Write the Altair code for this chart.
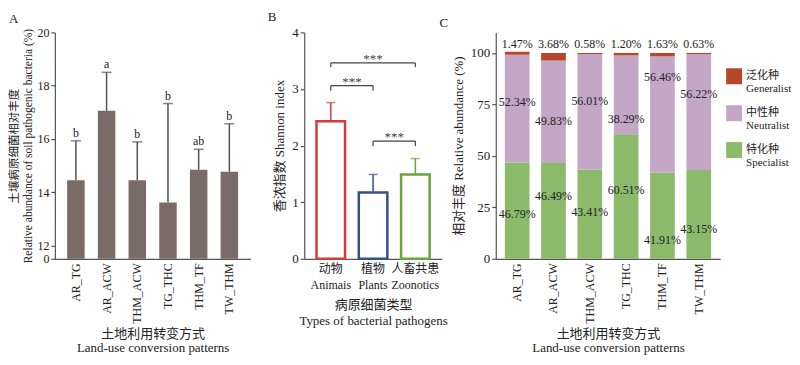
import altair as alt
import pandas as pd

FONT = "Liberation Serif, Noto Sans CJK SC, serif"

# ---------------- Panel A data ----------------
a_sites = ["AR_TG", "AR_ACW", "THM_ACW", "TG_THC", "THM_TF", "TW_THM"]
a_mean = [14.45, 17.06, 14.45, 13.61, 14.84, 14.77]
a_upper = [15.93, 18.50, 15.89, 17.33, 15.61, 16.57]
a_letters = ["b", "a", "b", "b", "ab", "b"]
a_base = 11.5  # broken-axis position of "0"

# ---------------- Panel B data ----------------
b_cats = ["动物|Animais", "植物|Plants", "人畜共患|Zoonotics"]
b_mean = [2.43, 1.17, 1.49]
b_upper = [2.76, 1.49, 1.77]
b_colors = ["#d23b3b", "#34508c", "#6aa43e"]
b_brk_from = ["动物|Animais", "动物|Animais", "植物|Plants"]
b_brk_to = ["人畜共患|Zoonotics", "植物|Plants", "人畜共患|Zoonotics"]
b_brk_y = [3.46, 3.06, 2.08]
b_brk_drop = [3.39, 2.97, 1.99]
b_brk_text = ["***", "***", "***"]

# ---------------- Panel C data ----------------
c_sites = a_sites
c_spec = [46.79, 46.49, 43.41, 60.51, 41.91, 43.15]
c_neut = [52.34, 49.83, 56.01, 38.29, 56.46, 56.22]
c_gen = [1.47, 3.68, 0.58, 1.20, 1.63, 0.63]
c_groups = ["泛化种|Generalist", "中性种|Neutralist", "特化种|Specialist"]
c_colors = ["#b5472b", "#c4a7c7", "#8cba6b"]
c_gen_label_y = [104.3] * 6
c_neut_label_y = [76.3, 66.9, 76.7, 67.7, 88.4, 79.9]
c_spec_label_y = [21.9, 30.4, 22.6, 33.6, 8.9, 14.6]

AXCOL = "#555555"
TXT = "#222222"

# ================= Panel A =================
dfA = pd.DataFrame({"site": a_sites, "mean": a_mean, "upper": a_upper, "letter": a_letters})
scA = alt.Scale(domain=a_sites, paddingInner=0.43, paddingOuter=0.4)
xA = alt.X("site:N", scale=scA,
           axis=alt.Axis(labelAngle=-90, ticks=False, labelFontSize=12,
                         title=["土地利用转变方式", "Land-use conversion patterns"],
                         titlePadding=4, labelPadding=4, titleLineHeight=14))
yA_scale = alt.Scale(domain=[a_base, 20], nice=False, zero=False)
baseA = alt.Chart(dfA)
barsA = baseA.mark_bar(color="#7b6b67").encode(
    x=xA,
    y=alt.Y("mean:Q", scale=yA_scale,
            axis=alt.Axis(values=[a_base, 12, 14, 16, 18, 20], labelOverlap=False,
                          labelExpr=f"datum.value == {a_base} ? '0' : datum.label",
                          labelFontSize=12,
                          title=["土壤病原细菌相对丰度", "Relative abundance of soil pathogenic bacteria (%)"],
                          titleFontSize=11.5, titlePadding=3, titleLineHeight=14, labelPadding=2)),
    y2=alt.datum(a_base),
)
errA = baseA.mark_rule(color="#5b504e", strokeWidth=1.5).encode(
    x=alt.X("site:N", scale=scA), y="mean:Q", y2="upper:Q")
capA = baseA.mark_tick(color="#5b504e", size=10, thickness=1.5).encode(
    x=alt.X("site:N", scale=scA), y="upper:Q")
letA = baseA.mark_text(font=FONT, fontSize=12, color=TXT, baseline="bottom", dy=-1).encode(
    x=alt.X("site:N", scale=scA), y="upper:Q", text="letter:N")
chartA = alt.layer(barsA, errA, capA, letA).properties(
    width=196, height=227,
    title=alt.TitleParams("A", anchor="start", frame="bounds", fontSize=13, offset=0))

# ================= Panel B =================
dfB = pd.DataFrame({"cat": b_cats, "mean": b_mean, "upper": b_upper})
b_pi, b_po, b_w = 0.325, 0.29, 138
b_step = b_w / (len(b_cats) - b_pi + 2 * b_po)
scB = alt.Scale(domain=b_cats, paddingInner=b_pi, paddingOuter=b_po)
xB = alt.X("cat:N", scale=scB,
           axis=alt.Axis(labelAngle=0, ticks=False, labelExpr="split(datum.label, '|')",
                         title=["病原细菌类型", "Types of bacterial pathogens"], labelFontSize=12,
                         labelPadding=5, titlePadding=8, labelLineHeight=16, titleLineHeight=16))
colB = alt.Color("cat:N", scale=alt.Scale(domain=b_cats, range=b_colors), legend=None)
baseB = alt.Chart(dfB)
barsB = baseB.mark_bar(fill="white", strokeWidth=2.5).encode(
    x=xB,
    y=alt.Y("mean:Q", scale=alt.Scale(domain=[0, 4], nice=False),
            axis=alt.Axis(values=[0, 1, 2, 3, 4], format="d", title="香浓指数 Shannon index",
                          titlePadding=5)),
    stroke=colB)
errB = baseB.mark_rule(strokeWidth=1.5).encode(
    x=alt.X("cat:N", scale=scB), y="mean:Q", y2="upper:Q", color=colB)
capB = baseB.mark_tick(size=9, thickness=1.5).encode(
    x=alt.X("cat:N", scale=scB), y="upper:Q", color=colB)

dfBr = pd.DataFrame({"from": b_brk_from, "to": b_brk_to, "y": b_brk_y, "drop": b_brk_drop, "t": b_brk_text})
brH = alt.Chart(dfBr).mark_rule(color="#444444", strokeWidth=1.2).encode(
    x=alt.X("from:N", scale=scB), x2="to:N", y="y:Q")
brL = alt.Chart(dfBr).mark_rule(color="#444444", strokeWidth=1.2).encode(
    x=alt.X("from:N", scale=scB), y="y:Q", y2="drop:Q")
brR = alt.Chart(dfBr).mark_rule(color="#444444", strokeWidth=1.2).encode(
    x=alt.X("to:N", scale=scB), y="y:Q", y2="drop:Q")
txtB = []
for i in range(len(b_brk_from)):
    span = b_cats.index(b_brk_to[i]) - b_cats.index(b_brk_from[i])
    txtB.append(alt.Chart(dfBr.iloc[[i]]).mark_text(
        font=FONT, fontSize=13, color="#444444", baseline="bottom", dy=3, dx=span * b_step / 2).encode(
        x=alt.X("from:N", scale=scB), y="y:Q", text="t:N"))
chartB = alt.layer(barsB, errB, capB, brH, brL, brR, *txtB).properties(
    width=b_w, height=227,
    title=alt.TitleParams("B", anchor="start", frame="bounds", fontSize=13, dx=-6, offset=2))

# ================= Panel C =================
rows = []
for i, s in enumerate(c_sites):
    rows.append({"site": s, "grp": c_groups[2], "val": c_spec[i], "ord": 0})
    rows.append({"site": s, "grp": c_groups[1], "val": c_neut[i], "ord": 1})
    rows.append({"site": s, "grp": c_groups[0], "val": c_gen[i], "ord": 2})
dfC = pd.DataFrame(rows)
lab = []
for i, s in enumerate(c_sites):
    lab.append({"site": s, "y": c_gen_label_y[i], "t": f"{c_gen[i]:.2f}%"})
    lab.append({"site": s, "y": c_neut_label_y[i], "t": f"{c_neut[i]:.2f}%"})
    lab.append({"site": s, "y": c_spec_label_y[i], "t": f"{c_spec[i]:.2f}%"})
dfCl = pd.DataFrame(lab)

scC = alt.Scale(domain=c_sites, paddingInner=0.32, paddingOuter=0.25)
xC = alt.X("site:N", scale=scC,
           axis=alt.Axis(labelAngle=-90, ticks=False, labelFontSize=12,
                         title=["土地利用转变方式", "Land-use conversion patterns"],
                         titlePadding=4, labelPadding=4, titleLineHeight=14))
barsC = alt.Chart(dfC).mark_bar().encode(
    x=xC,
    y=alt.Y("val:Q", stack="zero", scale=alt.Scale(domain=[0, 110], nice=False),
            axis=alt.Axis(values=[0, 25, 50, 75, 100], title="相对丰度 Relative abundance (%)",
                          titlePadding=5)),
    color=alt.Color("grp:N", scale=alt.Scale(domain=c_groups, range=c_colors),
                    legend=alt.Legend(title=None, orient="none", legendX=231, legendY=36,
                                      symbolType="square", symbolSize=256, symbolStrokeWidth=0,
                                      labelExpr="split(datum.label, '|')", labelFont=FONT,
                                      labelFontSize=11, labelColor=TXT, rowPadding=11,
                                      labelOffset=4)),
    order=alt.Order("ord:Q"))
txtC = alt.Chart(dfCl).mark_text(font=FONT, fontSize=12, color=TXT).encode(
    x=alt.X("site:N", scale=scC), y="y:Q", text="t:N")
chartC = alt.layer(barsC, txtC).properties(
    width=225, height=227,
    title=alt.TitleParams("C", anchor="start", frame="bounds", fontSize=13, dx=-13, offset=2))

chart = alt.hconcat(chartA, chartB, chartC, spacing=54, bounds="flush").resolve_scale(
    color="independent").properties(padding={"left": 0, "top": 3, "right": 0, "bottom": 0}).configure_axis(
    labelFont=FONT, titleFont=FONT, labelFontSize=13, titleFontSize=13, titleFontWeight="normal",
    domainColor=AXCOL, tickColor=AXCOL, labelColor=TXT, titleColor=TXT, grid=False,
    domainWidth=1.2, tickWidth=1.2, tickSize=4
).configure_view(stroke=None).configure_title(font=FONT, fontWeight="normal", color=TXT)

chart.save("out.html", embed_options={"renderer": "svg", "actions": False})
